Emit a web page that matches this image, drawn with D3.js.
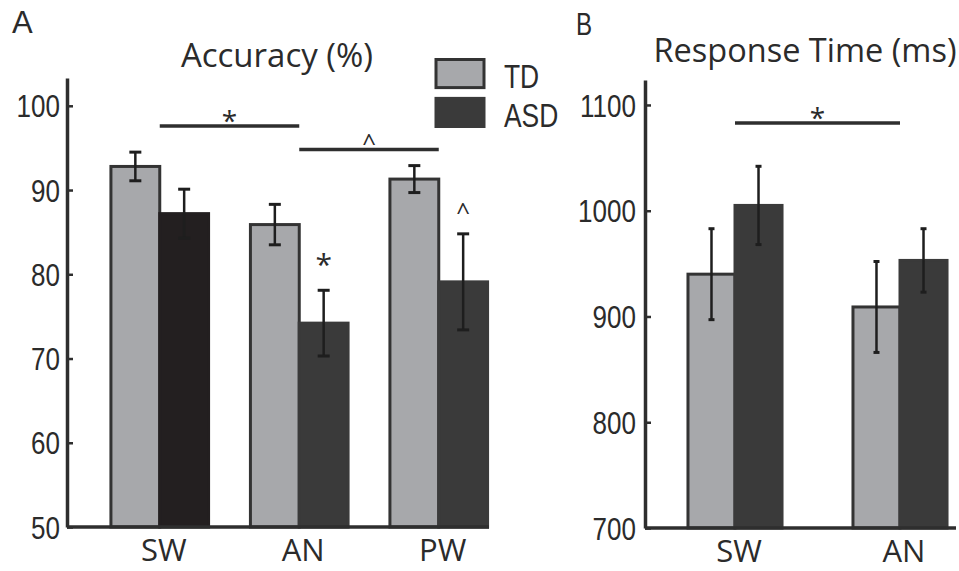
<!DOCTYPE html>
<html>
<head>
<meta charset="utf-8">
<style>
  body { margin: 0; background: #fff; }
  svg text { fill: #2b2b2b; }
</style>
</head>
<body>
<div id="chart"></div>
<script src="https://cdn.jsdelivr.net/npm/d3@7"></script>
<script>

// Data
var groups = ["TD", "ASD"];

var accCats = ["SW", "AN", "PW"];
var accTD   = [92.8, 85.9, 91.3];
var accTDerr = [1.7, 2.4, 1.6];
var accASD  = [87.2, 74.2, 79.1];
var accASDerr = [2.9, 3.9, 5.7];
var accTicks = [50, 60, 70, 80, 90, 100];

var rtCats = ["SW", "AN"];
var rtTD   = [940, 909];
var rtTDerr = [43, 43];
var rtASD  = [1005, 953];
var rtASDerr = [37, 30];
var rtTicks = [700, 800, 900, 1000, 1100];

var W = 959, H = 571;
var helv = "'Liberation Sans', Arial, sans-serif";
var myriad = "'Open Sans', 'Noto Sans', sans-serif";
var squeeze = 0.84; // no condensed font installed, so squeeze Liberation Sans
var ink = "#2e2e2e";
var tdFill = "#a7a8ab", asdFill = "#3a3a3a";

var svg = d3.select("#chart").append("svg")
  .attr("width", W).attr("height", H);

// build one bar panel
function panel(opt) {
  var g = svg.append("g");
  var x = d3.scaleBand().domain(opt.cats).range(opt.xRange)
    .paddingInner(opt.padIn).paddingOuter(opt.padIn / 2);
  var xs = d3.scaleBand().domain(groups).range([0, x.bandwidth()]);
  var y = d3.scaleLinear().domain(opt.yDomain).range(opt.yRange);

  var rows = [];
  opt.cats.forEach(function (c, i) {
    rows.push({cat: c, grp: "TD", v: opt.td[i], e: opt.tdErr[i], fill: tdFill});
    rows.push({cat: c, grp: "ASD", v: opt.asd[i], e: opt.asdErr[i],
      fill: (opt.firstAsdFill && i === 0) ? opt.firstAsdFill : asdFill});
  });

  g.selectAll("rect.bar").data(rows).enter().append("rect")
    .attr("class", "bar")
    .attr("x", function (d) { return x(d.cat) + xs(d.grp); })
    .attr("width", xs.bandwidth())
    .attr("y", function (d) { return y(d.v); })
    .attr("height", function (d) { return y(opt.yDomain[0]) - y(d.v); })
    .attr("fill", function (d) { return d.fill; })
    .attr("stroke", function (d) { return d.grp === "TD" ? "#333" : d.fill; })
    .attr("stroke-width", 3);

  // error bars
  var eb = g.selectAll("g.err").data(rows).enter().append("g")
    .attr("class", "err")
    .attr("transform", function (d) {
      return "translate(" + (x(d.cat) + xs(d.grp) + xs.bandwidth() / 2) + ",0)";
    });
  eb.append("line")
    .attr("y1", function (d) { return y(d.v + d.e); })
    .attr("y2", function (d) { return y(d.v - d.e); })
    .attr("stroke", "#1e1e1e").attr("stroke-width", 2.5);
  eb.selectAll("line.cap")
    .data(function (d) { return [d.v + d.e, d.v - d.e]; })
    .enter().append("line").attr("class", "cap")
    .attr("x1", -opt.cap).attr("x2", opt.cap)
    .attr("y1", function (v) { return y(v); })
    .attr("y2", function (v) { return y(v); })
    .attr("stroke", "#1e1e1e").attr("stroke-width", 3);

  // y axis, ticks pointing inward
  var ya = g.append("g")
    .attr("transform", "translate(" + opt.axisX + ",0)")
    .call(d3.axisLeft(y).tickValues(opt.ticks).tickFormat(d3.format("d"))
      .tickSize(-6).tickSizeOuter(0));
  ya.select(".domain").attr("stroke", ink).attr("stroke-width", 3.5);
  ya.selectAll(".tick line").attr("stroke", ink).attr("stroke-width", 2.5);
  ya.selectAll(".tick text")
    .attr("transform", "scale(" + squeeze + ",1)")
    .attr("x", -opt.tickPad / squeeze)
    .style("font-family", helv).style("font-size", "31px")
    .attr("fill", "#2b2b2b").attr("dy", "0.36em");

  // baseline
  g.append("line")
    .attr("x1", opt.axisX).attr("x2", opt.baseEnd)
    .attr("y1", y(opt.yDomain[0])).attr("y2", y(opt.yDomain[0]))
    .attr("stroke", ink).attr("stroke-width", 3.5);

  // category labels
  g.selectAll("text.cat").data(opt.cats).enter().append("text")
    .attr("class", "cat")
    .attr("x", function (c) { return x(c) + x.bandwidth() / 2 + 4; })
    .attr("y", y(opt.yDomain[0]) + 34)
    .attr("text-anchor", "middle")
    .style("font-family", myriad).style("font-size", "31px")
    .text(function (c) { return c; });

  // title and panel letter
  g.append("text").attr("x", opt.titleX).attr("y", opt.titleY)
    .attr("text-anchor", "middle")
    .style("font-family", myriad).style("font-size", opt.titleSize)
    .text(opt.title);
  g.append("text")
    .attr("transform", "scale(" + opt.letterSq + ",1)")
    .attr("x", opt.letterX / opt.letterSq).attr("y", opt.letterY)
    .style("font-family", helv).style("font-size", "31px")
    .text(opt.letter);

  // significance brackets
  (opt.sig || []).forEach(function (s) {
    var x1 = x(s.from) + x.bandwidth() / 2, x2 = x(s.to) + x.bandwidth() / 2;
    g.append("line").attr("x1", x1).attr("x2", x2)
      .attr("y1", y(s.at)).attr("y2", y(s.at))
      .attr("stroke", ink).attr("stroke-width", 3.5);
    g.append("text").attr("x", (x1 + x2) / 2).attr("y", y(s.at) + (s.mark === "*" ? 5 : 1))
      .attr("text-anchor", "middle")
      .style("font-family", myriad).style("font-size", s.mark === "*" ? "28px" : "24px")
      .text(s.mark);
  });
  (opt.marks || []).forEach(function (m) {
    g.append("text")
      .attr("x", x(m.cat) + xs(m.grp) + xs.bandwidth() / 2)
      .attr("y", y(m.at))
      .attr("text-anchor", "middle")
      .style("font-family", myriad).style("font-size", m.mark === "*" ? "30px" : "24px")
      .text(m.mark);
  });
  return {x: x, y: y};
}

panel({
  cats: accCats, td: accTD, tdErr: accTDerr, asd: accASD, asdErr: accASDerr,
  firstAsdFill: "#231f20",
  xRange: [90, 508.5], padIn: 0.3,
  yDomain: [50, 103.3], yRange: [527, 78], ticks: accTicks,
  axisX: 67, baseEnd: 489, tickPad: 7, cap: 6,
  title: "Accuracy (%)", titleX: 277, titleY: 67, titleSize: "33px",
  letter: "A", letterX: 12, letterY: 33, letterSq: 1,
  sig: [{from: "SW", to: "AN", at: 97.6, mark: "*"},
        {from: "AN", to: "PW", at: 94.8, mark: "^"}],
  marks: [{cat: "AN", grp: "ASD", at: 79.9, mark: "*"},
          {cat: "PW", grp: "ASD", at: 86.4, mark: "^"}]
});

panel({
  cats: rtCats, td: rtTD, tdErr: rtTDerr, asd: rtASD, asdErr: rtASDerr,
  xRange: [652.5, 982.5], padIn: 0.43,
  yDomain: [700, 1123.6], yRange: [528, 80], ticks: rtTicks,
  axisX: 645, baseEnd: 956, tickPad: 9, cap: 3,
  title: "Response Time (ms)", titleX: 805, titleY: 62, titleSize: "32.5px",
  letter: "B", letterX: 576, letterY: 35, letterSq: 0.78,
  sig: [{from: "SW", to: "AN", at: 1083, mark: "*"}]
});

// legend
var legend = svg.append("g");
var legY = d3.scaleBand().domain(groups).range([58, 128]).paddingInner(0.2);
legend.selectAll("rect").data(groups).enter().append("rect")
  .attr("x", 436).attr("width", 48)
  .attr("y", function (d) { return legY(d) + 1.5; })
  .attr("height", legY.bandwidth() - 3)
  .attr("fill", function (d) { return d === "TD" ? tdFill : asdFill; })
  .attr("stroke", function (d) { return d === "TD" ? "#333" : asdFill; })
  .attr("stroke-width", 3);
legend.selectAll("text").data(groups).enter().append("text")
  .attr("transform", "scale(0.8,1)")
  .attr("x", 504 / 0.8)
  .attr("y", function (d) { return legY(d) + legY.bandwidth() - 1; })
  .style("font-family", helv).style("font-size", "33px")
  .text(function (d) { return d; });

</script>
</body>
</html>
